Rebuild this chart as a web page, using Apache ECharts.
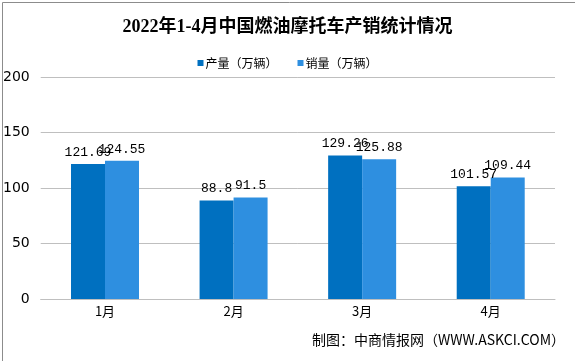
<!DOCTYPE html>
<html><head><meta charset="utf-8">
<script src="https://cdn.jsdelivr.net/npm/echarts@6/dist/echarts.min.js"></script>
<style>html,body{margin:0;padding:0;background:#fff}#c{width:575px;height:361px}</style>
</head><body><div id="c"></div>
<script>
const titleText = '2022年1-4月中国燃油摩托车产销统计情况';
const categories = ['1月', '2月', '3月', '4月'];
const seriesNames = ['产量（万辆）', '销量（万辆）'];
const production = [121.69, 88.8, 129.26, 101.57];
const sales = [124.55, 91.5, 125.88, 109.44];
const yTicks = [0, 50, 100, 150, 200];
const footerText = '制图：中商情报网（WWW.ASKCI.COM）';

const chart = echarts.init(document.getElementById('c'), null, {renderer: 'canvas'});
const labelStyle = {show: true, position: 'top', distance: 5, color: '#000', fontFamily: '"Liberation Mono","DejaVu Sans Mono",monospace', fontSize: 13};
chart.setOption({
  animation: false,
  backgroundColor: '#fff',
  title: {text: titleText, left: 'center', top: 13,
    textStyle: {fontFamily: '"Liberation Serif","Noto Sans CJK SC"', fontSize: 18, fontWeight: 'bold', color: '#000'}},
  legend: {top: 52, left: 'center', itemWidth: 6, itemHeight: 6, itemGap: 20,
    icon: 'rect',
    textStyle: {fontFamily: '"Noto Sans CJK SC"', fontSize: 12, color: '#000', padding: [0, 0, 0, -3]},
    data: seriesNames},
  grid: {left: 35, right: 20, top: 77, bottom: 62, containLabel: false},
  xAxis: {type: 'category', data: categories,
    axisLine: {lineStyle: {color: '#bfbfbf'}}, axisTick: {show: false},
    axisLabel: {color: '#000', fontSize: 13, fontFamily: '"Noto Sans CJK SC"', margin: 6}},
  yAxis: {type: 'value', min: yTicks[0], max: yTicks[yTicks.length - 1], interval: 50,
    axisLine: {show: false}, axisTick: {show: false},
    splitLine: {lineStyle: {color: '#bfbfbf'}},
    axisLabel: {color: '#000', fontSize: 14, fontFamily: '"DejaVu Sans","Liberation Sans"', margin: 11}},
  series: [
    {name: seriesNames[0], type: 'bar', data: production, barWidth: 34, barGap: '0%',
      itemStyle: {color: '#0070C0'}, label: labelStyle},
    {name: seriesNames[1], type: 'bar', data: sales, barWidth: 34,
      itemStyle: {color: '#2E8FE0'}, label: labelStyle}
  ],
  graphic: [
    {type: 'rect', left: 0, top: 0, shape: {width: 574, height: 359}, style: {fill: 'none', stroke: '#8c8c8c', lineWidth: 1}, silent: true},
    {type: 'text', right: 10, top: 333, style: {text: footerText, fill: '#000', fontSize: 14, fontFamily: '"Noto Sans CJK SC"'}}
  ]
});
</script></body></html>
